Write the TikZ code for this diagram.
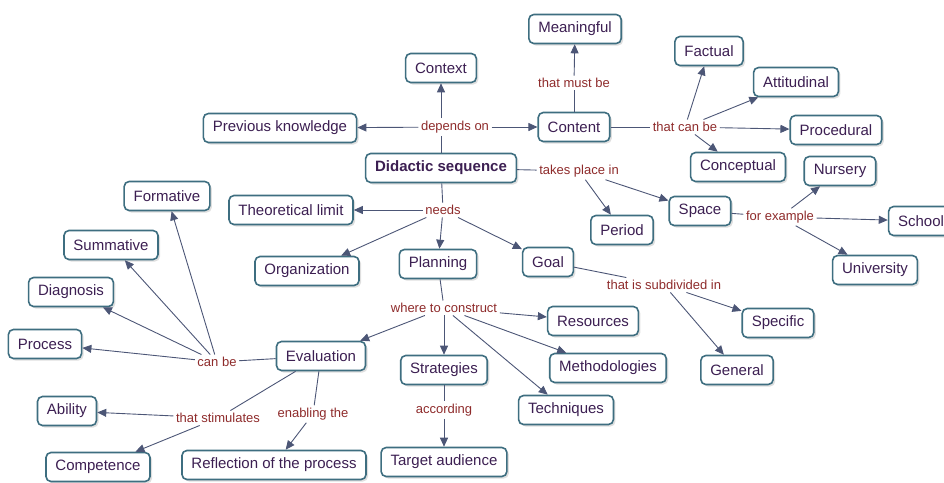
\documentclass[tikz,border=0pt]{standalone}
\usepackage{fontspec}
\setmainfont{Liberation Sans}
\usetikzlibrary{arrows.meta,shadows}
\definecolor{cborder}{HTML}{3E6E80}
\definecolor{ctext}{HTML}{3C1F52}
\definecolor{ltext}{HTML}{8E2B2B}
\definecolor{cline}{HTML}{4C5676}
\begin{document}
\begin{tikzpicture}[x=1pt,y=-1pt,
  concept/.style={draw=cborder, line width=1.6pt, fill=white, rounded corners=5pt,
    text=ctext, font=\fontsize{15}{18}\selectfont, minimum height=29pt, inner xsep=9.5pt,
    drop shadow={shadow xshift=2pt, shadow yshift=-2pt, fill=black!25}},
  phrase/.style={text=ltext, font=\fontsize{13}{15}\selectfont, inner sep=2.5pt},
  link/.style={draw=cline, line width=0.9pt},
  to/.style={link, -{Triangle[length=9pt,width=8pt]}}]
\useasboundingbox (0,0) rectangle (944,482);

% concepts
\node[concept, font=\fontsize{15}{18}\selectfont\bfseries] (ds) at (441,168) {Didactic sequence};
\node[concept] (ctx) at (441,68) {Context};
\node[concept] (prev) at (280,128) {Previous knowledge};
\node[concept] (cont) at (574,127) {Content};
\node[concept] (mean) at (575,29) {Meaningful};
\node[concept] (fact) at (709,51) {Factual};
\node[concept] (att) at (796,82) {Attitudinal};
\node[concept] (proc) at (836,130) {Procedural};
\node[concept] (conc) at (738,167) {Conceptual};
\node[concept] (space) at (700,211) {Space};
\node[concept] (period) at (622,230) {Period};
\node[concept] (nurs) at (840,171) {Nursery};
\node[concept] (school) at (921,221) {School};
\node[concept] (univ) at (875,270) {University};
\node[concept] (theo) at (291,210) {Theoretical limit};
\node[concept] (org) at (307,271) {Organization};
\node[concept] (plan) at (438,264) {Planning};
\node[concept] (goal) at (548,262) {Goal};
\node[concept] (spec) at (778,323) {Specific};
\node[concept] (gen) at (737,370) {General};
\node[concept] (res) at (593,321) {Resources};
\node[concept] (meth) at (608,368) {Methodologies};
\node[concept] (tech) at (566,410) {Techniques};
\node[concept] (strat) at (444,370) {Strategies};
\node[concept] (targ) at (444,462) {Target audience};
\node[concept] (eval) at (321,356) {Evaluation};
\node[concept] (form) at (167,196) {Formative};
\node[concept] (summ) at (111,245) {Summative};
\node[concept] (diag) at (71,292) {Diagnosis};
\node[concept] (procs) at (45,344) {Process};
\node[concept] (abil) at (67,411) {Ability};
\node[concept] (comp) at (98,467) {Competence};
\node[concept] (refl) at (274,465) {Reflection of the process};

% linking phrases
\node[phrase] (dep) at (455,127) {depends on};
\node[phrase] (must) at (574,83) {that must be};
\node[phrase] (canbe) at (685,127) {that can be};
\node[phrase] (takes) at (579,171) {takes place in};
\node[phrase] (forex) at (780,217) {for example};
\node[phrase] (needs) at (443,210) {needs};
\node[phrase] (subdiv) at (664,285) {that is subdivided in};
\node[phrase] (where) at (444,308) {where to construct};
\node[phrase] (acc) at (444,410) {according};
\node[phrase] (could) at (217,362) {can be};
\node[phrase] (stim) at (218,418) {that stimulates};
\node[phrase] (enab) at (313,414) {enabling the};

% connectors
\draw[link] (ds) -- (ds |- dep.south);
\draw[to] (ds |- dep.north) -- (ctx);
\draw[to] (dep) -- (prev);
\draw[to] (dep) -- (cont);
\draw[link] (cont) -- (must);
\draw[to] (must) -- (mean);
\draw[link] (cont) -- (canbe);
\draw[to] (canbe) -- (fact);
\draw[to] (canbe) -- (att);
\draw[to] (canbe) -- (proc);
\draw[to] (canbe) -- (conc);
\draw[link] (ds) -- (takes);
\draw[to] (takes) -- (period);
\draw[to] (takes) -- (space);
\draw[link] (space) -- (forex);
\draw[to] (forex) -- (nurs);
\draw[to] (forex) -- (school);
\draw[to] (forex) -- (univ);
\draw[link] (ds) -- (needs);
\draw[to] (needs) -- (theo);
\draw[to] (needs) -- (org);
\draw[to] (needs) -- (plan);
\draw[to] (needs) -- (goal);
\draw[link] (goal) -- (subdiv);
\draw[to] (subdiv) -- (spec);
\draw[to] (subdiv) -- (gen);
\draw[link] (plan) -- (where);
\draw[to] (where) -- (res);
\draw[to] (where) -- (meth);
\draw[to] (where) -- (tech);
\draw[to] (where) -- (strat);
\draw[to] (where) -- (eval);
\draw[link] (strat) -- (acc);
\draw[to] (acc) -- (targ);
\draw[link] (eval) -- (could);
\draw[to] (could) -- (procs);
\draw[to] (could) -- (diag);
\draw[to] (could) -- (summ);
\draw[to] (could) -- (form);
\draw[link] (eval) -- (stim);
\draw[to] (stim) -- (abil);
\draw[to] (stim) -- (comp);
\draw[link] (eval) -- (enab);
\draw[to] (enab) -- (refl);
\end{tikzpicture}
\end{document}
